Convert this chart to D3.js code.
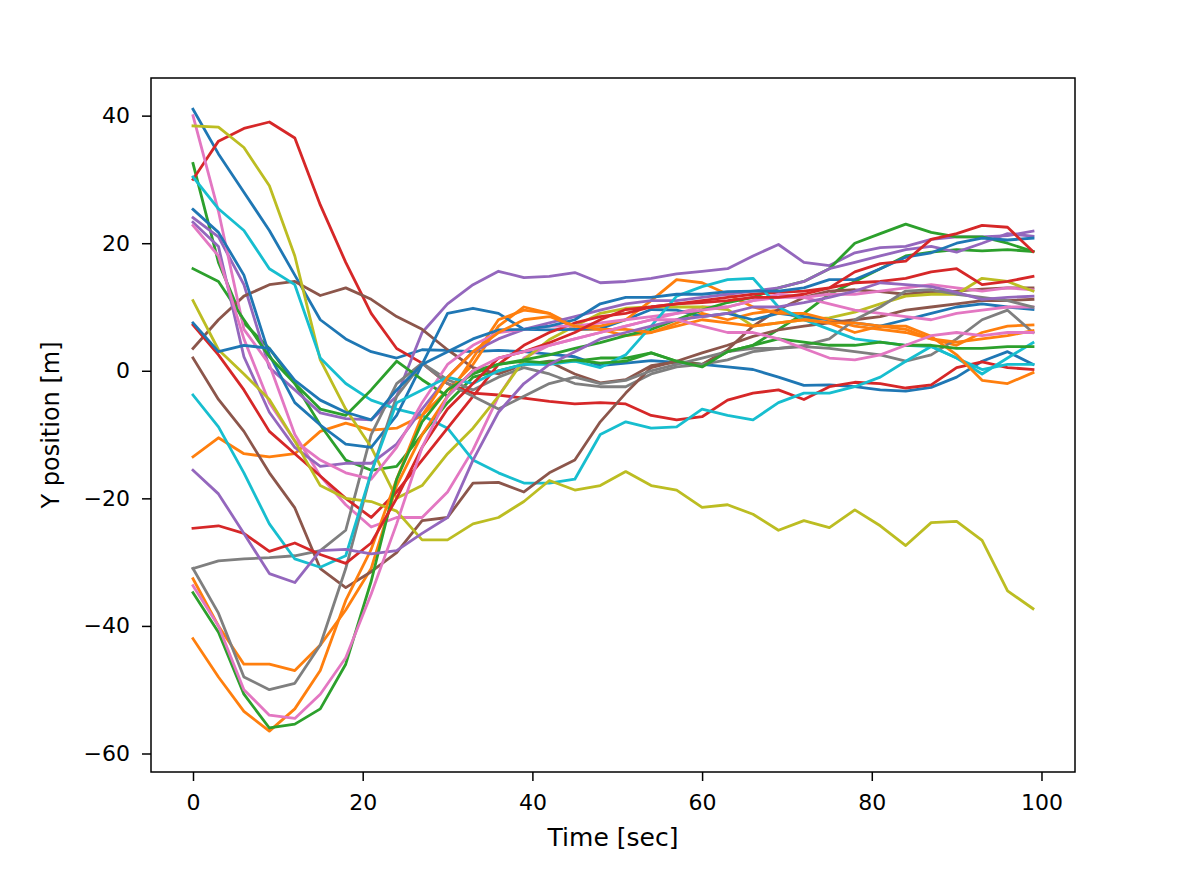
<!DOCTYPE html>
<html>
<head>
<meta charset="utf-8">
<script src="https://cdn.jsdelivr.net/npm/d3@7"></script>
<style>
  body { margin: 0; background: #fff; }
  text { font-family: "DejaVu Sans", sans-serif; fill: #000; }
</style>
</head>
<body>
<div id="chart"></div>
<script>
// sample times (sec)
var times = [0,3,6,9,12,15,18,21,24,27,30,33,36,39,42,45,48,51,54,57,60,63,66,69,72,75,78,81,84,87,90,93,96,99];

// Y position [m] of each track
var blueA   = [41,34,28,22,15,8,5,3,2,3.3,3.2,3,3.2,3,2.6,2.2,0.8,1.2,1.6,1.3,1,0.6,0.2,-1,-2.3,-2.2,-2.5,-3,-3.2,-2.6,-1,1.5,3,1];
var orangeA = [-13.5,-10.5,-13,-13.5,-13,-9.5,-8.2,-9.3,-9,-7,-3,1,7,10,9,6.5,6.5,5.5,6,7.5,9,8,9,9.5,8,7.5,6,7,6.5,5,4,6,7,7.2];
var greenA  = [32.5,17,7.5,3.5,-2,-8.5,-14,-15.6,-15,-10,-5,-1,0,1,1.5,1.5,2,2,2.8,1.5,1,3,4,6.5,9,12,14,16,18,18.6,19,18.8,19,18.7];
var redA    = [30,36,38,39,36.5,26,17,9,3.5,1.2,-2,-3.5,-3.8,-4.3,-4.8,-5.2,-5,-5.2,-7,-7.7,-7.2,-4.6,-3.5,-3,-4.5,-2.5,-1.8,-2,-2.7,-2.2,0.5,1.4,0.5,0.2];
var purpleA = [24,21,13.5,0.5,-3,-6.6,-7.5,-7.7,-4,6,10.5,13.5,15.6,14.6,14.8,15.4,13.8,14,14.5,15.2,15.6,16,18,19.8,17,16.5,18.5,19.3,19.5,20.6,21,21,21.2,21.9];
var brownA  = [3.5,8,11.7,13.5,14,11.8,13,11.2,8.5,6.5,3.3,0.5,-0.5,1,1.4,-0.5,-1.9,-1.4,0.8,1.4,1,3.3,7,9.6,11.5,12.5,12.7,12.4,12,12.4,12.5,12.8,13,13];
var pinkA   = [40,25,6.5,1,-10,-16.5,-21,-24.5,-23,-23,-19,-12.4,-4,2,4,5,6,7,8,9,10,10,11,11.5,11.5,12,12,12.5,13,13.5,13,12.5,13,12.7];
var grayA   = [-31,-29.8,-29.5,-29.3,-29,-28.2,-25,-10,-2,1.2,-1.4,-3,-1,0.5,-0.5,-2,-2.5,-2.5,-0.5,0.6,1,1.7,3,3.5,3.8,3.5,3,2.5,1.5,2.5,5,8,9.5,6];
var oliveA  = [38.4,38.2,35,29,18,1.7,-6,-12,-20,-18,-13,-9,-4,1.7,4.9,7,9,9.8,10,10,10,9.6,7,7.5,8,8.3,9.2,10.5,11.7,12,12,14.5,14,12.5];
var cyanA   = [30.4,25.4,22,16,13.5,2,-2,-4.6,-6,-7,-9,-14,-16,-17.6,-17.6,-17,-10,-8,-9,-8.8,-6,-7,-7.7,-5,-3.5,-3.5,-2.5,-1,1.5,3.8,2,-0.5,2,4.4];
var blueB   = [25.3,21.7,15,2.5,-5,-8.5,-11.5,-12,-7,1,9,9.8,9,6.5,6.4,6.5,6.6,8,9.6,9.5,8.5,9,8,9,8.5,8,7.5,7,8,9,10,10.5,10,9.6];
var orangeB = [-32.6,-40,-46,-46,-47,-43,-37.5,-31,-18,-10,-4,2,8,9.5,9,7,7,8,11,14.3,13.8,12,10,9,9,8,7,6.5,6,5,4.5,5,5.5,6.3];
var greenB  = [16,14,8,2.2,-2,-6,-7,-3,1.5,-1.4,-4,0,1,1.7,2.5,3.5,4.4,5.5,6.5,8,9.5,10.7,11.5,13,14,16,20,21.5,23,21.7,21,21,20,18.7];
var redB    = [7.2,2.5,-3,-9.5,-13,-16.5,-20,-23,-19,-14,-9,-4,1,4,6,7.5,8.5,9,10,10.5,11,11.5,12,12.3,12.5,13,13.8,14,14.5,15.5,16,13.5,14,14.8];
var purpleB = [23.3,19.5,2.2,-6.5,-12,-15,-14.5,-14.5,-11.5,-6,-1,3,5,6.5,7.5,8.5,9.5,10.5,11,11,11.5,12,12.5,13,14,16,17,18,19,19.5,18.6,20,21.5,21.1];
var brownB  = [2,-4.5,-9.5,-16,-21.5,-31,-34,-31.5,-28.5,-23.5,-23,-17.6,-17.5,-19,-16,-14,-8,-3.5,0.5,1.5,2.8,4,5.4,6.4,7,7.5,8,8.5,9.5,10,10.5,11,11,11.2];
var pinkB   = [22.8,18,5,-5,-11,-14,-16,-17,-12,-5,1,4,6,6.5,7,7,7.5,8,8.5,9,9.5,10,11,12,11.5,10.5,9.5,9,8.5,8,9,9.5,10,10];
var grayB   = [-31,-38,-48,-50,-49,-43,-31,-16,-4,1.2,-2,-4,-6,-4,-2,-1,-2,-1.5,0,1,2,3,3.5,3.5,4,5,8,10,12.5,12.7,12,11.5,11,10];
var oliveB  = [11,3.3,-0.5,-4.5,-11,-18,-20,-20.5,-22,-26.5,-26.5,-24,-23,-20.5,-17.2,-18.7,-18,-15.8,-18,-18.7,-21.4,-21,-22.5,-25,-23.5,-24.6,-21.8,-24.3,-27.4,-23.8,-23.6,-26.6,-34.5,-37.3];
var cyanB   = [-3.8,-8.8,-16,-24,-29.5,-30.8,-29,-16,-5,-3,-1,-2,0,1,1,1.5,0.5,2.5,7,11.7,13.2,14.3,14.5,10,8,6.5,5,4.5,4,3.8,2,0.2,1,1];
var blueC   = [7.5,3,4,3.5,-1.5,-4.6,-6.5,-7.7,-3,1,3,5,6.4,6.5,7,8,10.5,11.5,11.5,12,12,12.4,12.5,12.5,13,14.3,14.3,16,17.8,18.5,20,20.8,20.5,20.8];
var orangeC = [-42,-48,-53.4,-56.5,-53,-47,-36,-28,-17,-7,-1,3,6,8,8.5,7,6.5,6.5,6,7,8,7.5,7,7.5,8,7.5,7.5,7,7,5.4,2.5,-1.5,-2,-0.3];
var greenC  = [-34.8,-41,-50.7,-56,-55.4,-53,-46,-33,-17,-8,-3,-0.5,1,1.5,1.2,1.7,1.2,1.5,2.8,1.5,0.6,3,4,5,4.5,4,4,4.5,4,4,3.5,3.5,3.8,3.8];
var redC    = [-24.7,-24.3,-25.5,-28.3,-27,-28.8,-30.2,-27,-20,-12,-6,-2,2,3,4.4,6,8,9.6,10,10.5,10.7,11,11.5,11.5,12,13,15.5,16.8,17.2,20.6,21.5,22.8,22.5,18.7];
var purpleC = [-15.6,-19.3,-25.5,-31.8,-33.2,-28.2,-28,-28.7,-28.2,-25.5,-23,-14,-6.5,-2,1,3,5,6,7,8,8.5,9,10,10,10.7,11.5,12.5,13.8,13.5,13.2,12.3,11.2,11.5,11.7];
var pinkC   = [-33.7,-40,-50,-54,-54.5,-50.7,-45,-35,-24,-12,-4,0,2,3,4,5,6,7,8,8,7,6,6,5,3.5,2,1.7,2.5,4,5.5,6,5.5,6,6];

var xTicks = [0,20,40,60,80,100];
var yTicks = [-60,-40,-20,0,20,40];

// plotting order follows the colour cycle
var tracks = [blueA, orangeA, greenA, redA, purpleA, brownA, pinkA, grayA, oliveA, cyanA,
              blueB, orangeB, greenB, redB, purpleB, brownB, pinkB, grayB, oliveB, cyanB,
              blueC, orangeC, greenC, redC, purpleC, pinkC];
var trackColors = ["#1f77b4","#ff7f0e","#2ca02c","#d62728","#9467bd","#8c564b","#e377c2","#7f7f7f","#bcbd22","#17becf",
                   "#1f77b4","#ff7f0e","#2ca02c","#d62728","#9467bd","#8c564b","#e377c2","#7f7f7f","#bcbd22","#17becf",
                   "#1f77b4","#ff7f0e","#2ca02c","#d62728","#9467bd","#e377c2"];

var width = 1196, height = 869;
var plot = {left: 151, right: 1075, top: 78, bottom: 772};

var svg = d3.select("#chart").append("svg")
  .attr("width", width)
  .attr("height", height);

var x = d3.scaleLinear().domain([-4.95, 103.95]).range([plot.left, plot.right]);
var y = d3.scaleLinear().domain([-62.9, 45.9]).range([plot.bottom, plot.top]);

var line = d3.line()
  .x(function(d, i) { return x(times[i]); })
  .y(function(d) { return y(d); });

svg.append("defs").append("clipPath").attr("id", "clip")
  .append("rect")
  .attr("x", plot.left).attr("y", plot.top)
  .attr("width", plot.right - plot.left)
  .attr("height", plot.bottom - plot.top);

svg.append("g")
  .attr("clip-path", "url(#clip)")
  .selectAll("path")
  .data(tracks)
  .enter().append("path")
  .attr("fill", "none")
  .attr("stroke", function(d, i) { return trackColors[i]; })
  .attr("stroke-width", 2.8)
  .attr("stroke-linejoin", "round")
  .attr("stroke-linecap", "square")
  .attr("d", line);

// axes
var xAxis = svg.append("g")
  .attr("transform", "translate(0," + plot.bottom + ")")
  .call(d3.axisBottom(x).tickValues(xTicks).tickSize(9).tickPadding(13));
var yAxis = svg.append("g")
  .attr("transform", "translate(" + plot.left + ",0)")
  .call(d3.axisLeft(y).tickValues(yTicks).tickSize(9).tickPadding(12)
    .tickFormat(function(d) { return d < 0 ? "\u2212" + Math.abs(d) : d; }));

[xAxis, yAxis].forEach(function(a) {
  a.select(".domain").remove();
  a.selectAll(".tick line").attr("stroke", "#000").attr("stroke-width", 1.5);
  a.selectAll(".tick text")
    .attr("font-family", "DejaVu Sans, sans-serif")
    .attr("font-size", 22)
    .attr("fill", "#000");
});

svg.append("rect")
  .attr("x", plot.left).attr("y", plot.top)
  .attr("width", plot.right - plot.left)
  .attr("height", plot.bottom - plot.top)
  .attr("fill", "none")
  .attr("stroke", "#000")
  .attr("stroke-width", 1.5);

svg.append("text")
  .attr("x", (plot.left + plot.right) / 2)
  .attr("y", 846)
  .attr("text-anchor", "middle")
  .attr("font-size", 25)
  .text("Time [sec]");

svg.append("text")
  .attr("transform", "translate(59," + (plot.top + plot.bottom) / 2 + ") rotate(-90)")
  .attr("text-anchor", "middle")
  .attr("font-size", 24)
  .text("Y position [m]");
</script>
</body>
</html>
